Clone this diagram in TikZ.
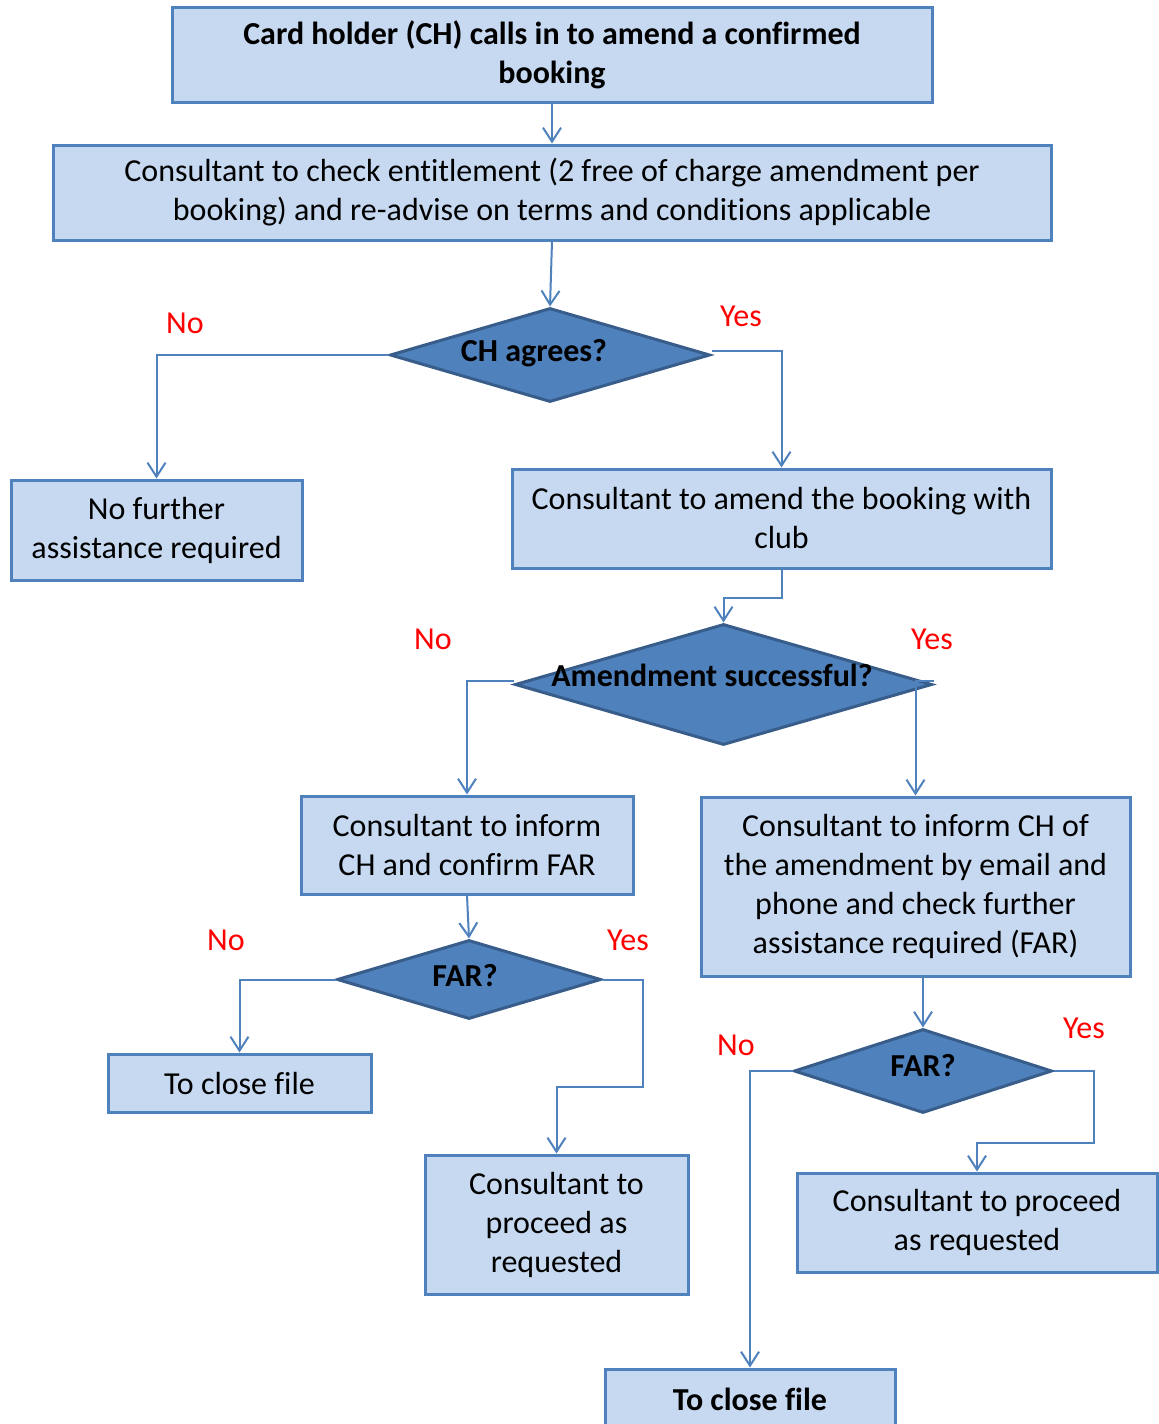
\documentclass[tikz,border=0pt]{standalone}
\usepackage{fontspec}
\setmainfont{Carlito}[RawFeature={-liga,-calt,-clig}]
\usetikzlibrary{shapes.geometric,arrows.meta}

\definecolor{boxfill}{HTML}{C6D9F1}
\definecolor{boxline}{HTML}{4F81BD}
\definecolor{decfill}{HTML}{4F81BD}
\definecolor{decline}{HTML}{385D8A}

\tikzset{
	stepbox/.style={draw=boxline, fill=boxfill, line width=1.5pt, align=center,
		inner sep=0pt, font=\fontsize{16}{19.5}\selectfont},
	decision/.style={diamond, draw=decline, fill=decfill, line width=1.5pt, inner sep=0pt},
	dectext/.style={font=\fontsize{16}{19.5}\selectfont\bfseries},
	conn/.style={draw=boxline, line width=1pt, -{Straight Barb[length=7pt,width=9pt]}},
	answer/.style={text=red, font=\fontsize{16}{19.5}\selectfont}
}

\begin{document}
\begin{tikzpicture}[x=0.5pt, y=-0.5pt]
	\useasboundingbox (0,0) rectangle (1159,1424);

	% process boxes
	\node[stepbox, minimum width=380pt, minimum height=47.5pt] (call) at (552,55)
		{\bfseries Card holder (CH) calls in to amend a confirmed\\\bfseries booking};
	\node[stepbox, minimum width=499pt, minimum height=47.5pt] (check) at (552,192.5)
		{Consultant to check entitlement (2 free of charge amendment per\\booking) and re-advise on terms and conditions applicable};
	\node[stepbox, minimum width=145.5pt, minimum height=50pt] (nofar) at (156.5,530)
		{No further\\assistance required};
	\node[stepbox, minimum width=269.5pt, minimum height=49.5pt] (amend) at (781.5,518.5)
		{Consultant to amend the booking with\\club};
	\node[stepbox, minimum width=166pt, minimum height=49pt] (informfail) at (467,845)
		{Consultant to inform\\CH and confirm FAR};
	\node[stepbox, minimum width=214.5pt, minimum height=89.5pt] (informok) at (915.5,886.5)
		{Consultant to inform CH of\\the amendment by email and\\phone and check further\\assistance required (FAR)};
	\node[stepbox, minimum width=131.5pt, minimum height=29pt] (closeA) at (239.5,1083)
		{To close file};
	\node[stepbox, minimum width=131.5pt, minimum height=69.5pt] (proceedA) at (556.5,1224.5)
		{Consultant to\\proceed as\\requested};
	\node[stepbox, minimum width=180pt, minimum height=49.5pt] (proceedB) at (977,1222.5)
		{Consultant to proceed\\as requested};
	\node[stepbox, minimum width=145pt, minimum height=30pt] (closeB) at (750,1399)
		{\bfseries To close file};

	% decisions
	\node[decision, minimum width=160pt, minimum height=47pt] (agree) at (550,355) {};
	\node[dectext] at (534,353) {CH agrees?};
	\node[decision, minimum width=208.5pt, minimum height=60.5pt] (success) at (723.5,684.5) {};
	\node[dectext] at (712,675) {Amendment successful?};
	\node[decision, minimum width=132pt, minimum height=39.5pt] (farA) at (469,979.5) {};
	\node[dectext] at (465,976) {FAR?};
	\node[decision, minimum width=129pt, minimum height=42pt] (farB) at (923,1071) {};
	\node[dectext] at (923,1066) {FAR?};

	% connectors
	\draw[conn] (call) -- (check);
	\draw[conn] (check.south) -- (agree.north);
	\draw[conn] (agree.west) -| (nofar.north);
	\draw[conn] ([yshift=2pt]agree.east) -| (amend.north);
	\draw[conn] (amend.south) -- ++(0,28) -| (success.north);
	\draw[conn] ([yshift=2pt]success.west) -| (informfail.north);
	\draw[conn] ([yshift=2pt]success.east) -| (informok.north);
	\draw[conn] (informfail.south) -- (farA.north);
	\draw[conn] (farA.west) -| (closeA.north);
	\draw[conn] (farA.east) -- ++(40,0) -- ++(0,107) -| (proceedA.north);
	\draw[conn] (informok.south -| farB.north) -- (farB.north);
	\draw[conn] (farB.west) -| (closeB.north);
	\draw[conn] (farB.east) -- ++(40,0) -- ++(0,72) -| (proceedB.north);

	% yes / no labels
	\foreach \pos/\txt in {{(185,323)}/No, {(741,316)}/Yes, {(433,639)}/No, {(932,639)}/Yes,
		{(226,940)}/No, {(628,940)}/Yes, {(736,1045)}/No, {(1084,1028)}/Yes}
		\node[answer] at \pos {\txt};
\end{tikzpicture}
\end{document}
